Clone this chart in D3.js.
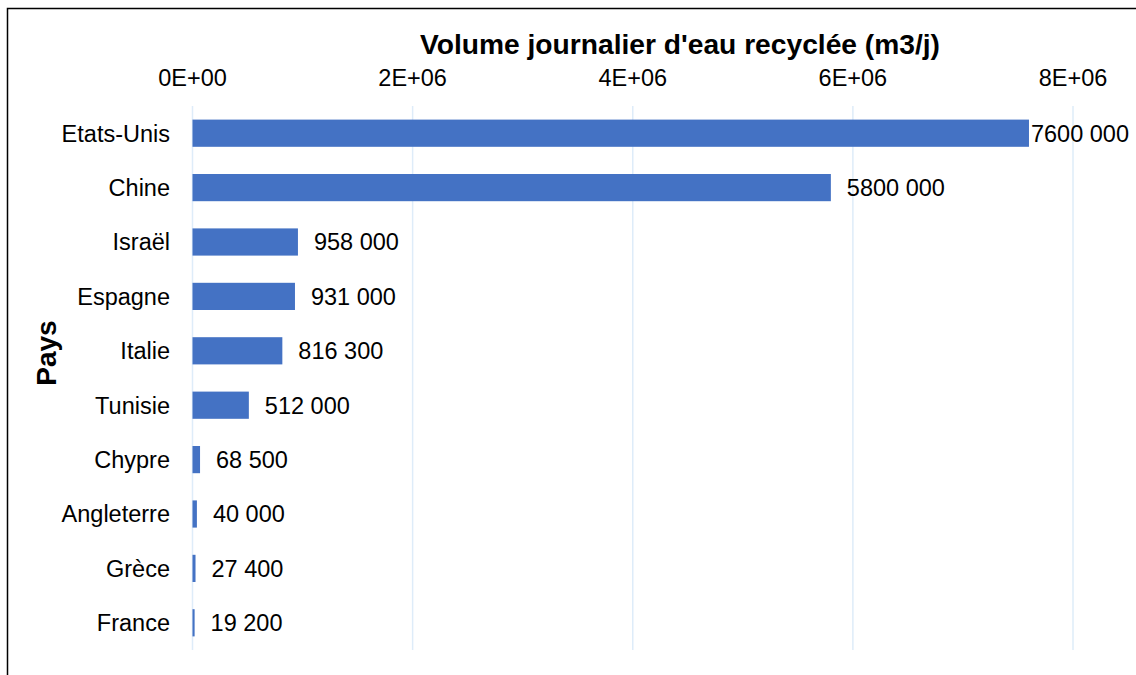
<!DOCTYPE html>
<html>
<head>
<meta charset="utf-8">
<script src="https://cdn.jsdelivr.net/npm/d3@7"></script>
<style>
  body { margin: 0; background: #fff; }
  text { font-family: "Liberation Sans", Arial, sans-serif; }
</style>
</head>
<body>
<script>
// data
const countries = ["Etats-Unis", "Chine", "Israël", "Espagne", "Italie", "Tunisie", "Chypre", "Angleterre", "Grèce", "France"];
const volumes = [7600000, 5800000, 958000, 931000, 816300, 512000, 68500, 40000, 27400, 19200];
const xTicks = [0, 2e6, 4e6, 6e6, 8e6];

const width = 1136, height = 675;
const svg = d3.select("body").append("svg").attr("width", width).attr("height", height);

// frame (runs off the right and bottom edge)
svg.append("rect")
  .attr("x", 7.5).attr("y", 8.5)
  .attr("width", width + 10).attr("height", height + 10)
  .attr("fill", "none").attr("stroke", "#000").attr("stroke-width", 1.5);

const x = d3.scaleLinear().domain([0, 8e6]).range([192.5, 1073]);
const y = d3.scaleBand().domain(countries).range([106, 650]).paddingInner(0.5).paddingOuter(0.25);

// gridlines
svg.append("g").selectAll("line").data(xTicks).join("line")
  .attr("x1", d => x(d)).attr("x2", d => x(d))
  .attr("y1", 106).attr("y2", 650)
  .attr("stroke", "#deecf9").attr("stroke-width", 1.5);

// top axis labels
const fmtExp = d => {
  if (d === 0) return "0E+00";
  const e = Math.floor(Math.log10(d));
  return (d / Math.pow(10, e)) + "E+" + String(e).padStart(2, "0");
};
svg.append("g").selectAll("text").data(xTicks).join("text")
  .attr("x", d => x(d)).attr("y", 86)
  .attr("text-anchor", "middle").attr("font-size", 23.5).attr("fill", "#000")
  .text(fmtExp);

// bars
svg.append("g").selectAll("rect").data(countries).join("rect")
  .attr("x", x(0))
  .attr("y", d => y(d))
  .attr("width", (d, i) => x(volumes[i]) - x(0))
  .attr("height", y.bandwidth())
  .attr("fill", "#4472c4");

// category labels
svg.append("g").selectAll("text").data(countries).join("text")
  .attr("x", 170).attr("y", d => y(d) + y.bandwidth() / 2)
  .attr("dy", "0.36em").attr("text-anchor", "end")
  .attr("font-size", 23.5).attr("fill", "#000")
  .text(d => d);

// value labels, "7600 000" style
const fmtVal = v => {
  const k = Math.floor(v / 1000), r = v % 1000;
  return k + " " + String(r).padStart(3, "0");
};
svg.append("g").selectAll("text").data(countries).join("text")
  .attr("x", (d, i) => x(volumes[i]) + 16)
  .attr("y", d => y(d) + y.bandwidth() / 2)
  .attr("dy", "0.36em").attr("font-size", 23.5).attr("fill", "#000")
  .text((d, i) => fmtVal(volumes[i]))
  .each(function () {
    // keep label inside the chart area
    const w = this.getComputedTextLength();
    const cur = +this.getAttribute("x");
    if (cur + w > 1129) this.setAttribute("x", Math.max(1129 - w, cur - 14));
  });

// titles
svg.append("text")
  .attr("x", 680).attr("y", 54).attr("text-anchor", "middle")
  .attr("font-size", 28.2).attr("font-weight", "bold")
  .text("Volume journalier d'eau recyclée (m3/j)");

svg.append("text")
  .attr("transform", "translate(56,353) rotate(-90)")
  .attr("text-anchor", "middle")
  .attr("font-size", 28).attr("font-weight", "bold")
  .text("Pays");
</script>
</body>
</html>
